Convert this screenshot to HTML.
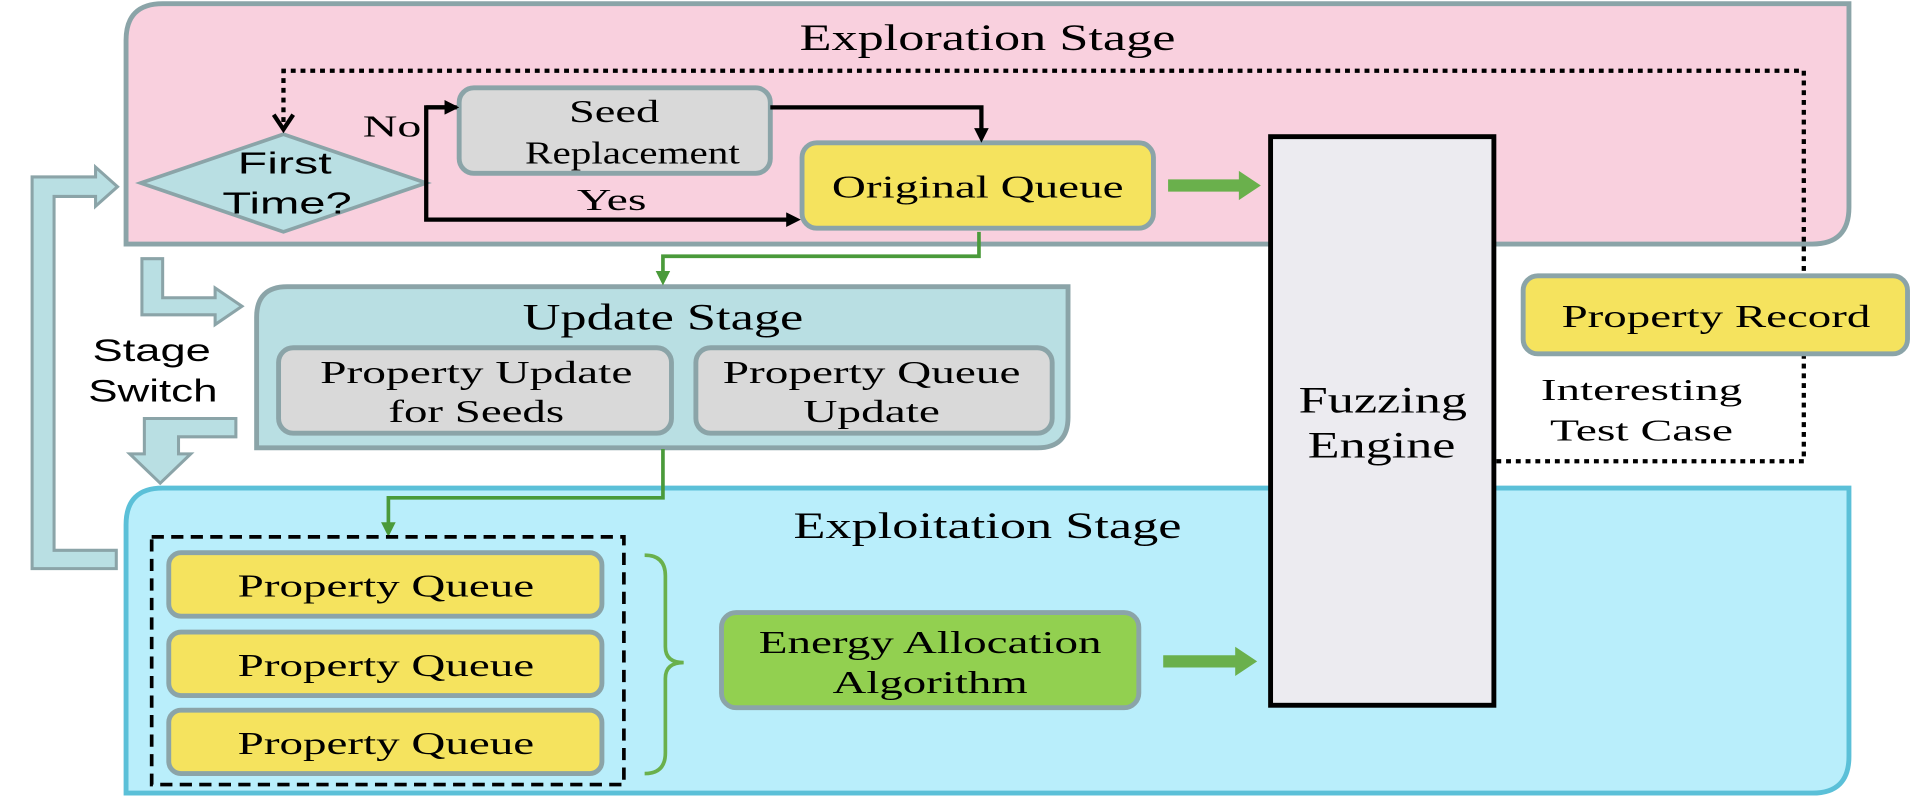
<!DOCTYPE html>
<html><head><meta charset="utf-8"><style>
html,body{margin:0;padding:0;background:#fff;}
svg{display:block}
.s{font-family:"Liberation Serif",serif;}
.a{font-family:"Liberation Sans",sans-serif;}
</style></head><body>
<svg width="1914" height="798" viewBox="0 0 1568 654" xmlns="http://www.w3.org/2000/svg">
<defs>
<marker id="bk" markerWidth="12" markerHeight="12" refX="8" refY="6" orient="auto" markerUnits="userSpaceOnUse"><path d="M0,0 L12,6 L0,12 Z" fill="#000"/></marker>
<marker id="gr" markerWidth="12" markerHeight="12" refX="8" refY="6" orient="auto" markerUnits="userSpaceOnUse"><path d="M0,0 L12,6 L0,12 Z" fill="#4a9a3a"/></marker>
</defs>
<path d="M133,3 H1515 V170 Q1515,200 1485,200 H103 V33 Q103,3 133,3 Z" fill="#f9d0de" stroke="#8ba4a8" stroke-width="4"/>
<text x="809" y="41" class="s" font-size="30" text-anchor="middle" textLength="308" lengthAdjust="spacingAndGlyphs">Exploration Stage</text>
<path d="M133,400 H1515 V620 Q1515,650 1485,650 H103 V430 Q103,400 133,400 Z" fill="#b9eefb" stroke="#5bc0d8" stroke-width="4"/>
<text x="809" y="441" class="s" font-size="30" text-anchor="middle" textLength="318" lengthAdjust="spacingAndGlyphs">Exploitation Stage</text>
<path d="M235,235 H875 V342 Q875,367 850,367 H210 V260 Q210,235 235,235 Z" fill="#b9dfe3" stroke="#8ba4a8" stroke-width="4"/>
<text x="543" y="270" class="s" font-size="30" text-anchor="middle" textLength="230" lengthAdjust="spacingAndGlyphs">Update Stage</text>
<rect x="228" y="285" width="322" height="70" rx="12" fill="#d9d9d9" stroke="#8ba4a8" stroke-width="4"/>
<text x="390" y="314" class="s" font-size="26" text-anchor="middle" textLength="256" lengthAdjust="spacingAndGlyphs">Property Update</text>
<text x="390" y="346" class="s" font-size="26" text-anchor="middle" textLength="144" lengthAdjust="spacingAndGlyphs">for Seeds</text>
<rect x="570" y="285" width="292" height="70" rx="12" fill="#d9d9d9" stroke="#8ba4a8" stroke-width="4"/>
<text x="714" y="314" class="s" font-size="26" text-anchor="middle" textLength="244" lengthAdjust="spacingAndGlyphs">Property Queue</text>
<text x="714" y="346" class="s" font-size="26" text-anchor="middle" textLength="112" lengthAdjust="spacingAndGlyphs">Update</text>
<rect x="376" y="72" width="255" height="70" rx="12" fill="#d9d9d9" stroke="#8ba4a8" stroke-width="4"/>
<text x="503" y="100" class="s" font-size="26" text-anchor="middle" textLength="74" lengthAdjust="spacingAndGlyphs">Seed</text>
<text x="518" y="134" class="s" font-size="26" text-anchor="middle" textLength="176" lengthAdjust="spacingAndGlyphs">Replacement</text>
<rect x="657" y="117" width="288" height="70" rx="12" fill="#f5e35e" stroke="#8ba4a8" stroke-width="4"/>
<text x="801" y="162" class="s" font-size="26" text-anchor="middle" textLength="239" lengthAdjust="spacingAndGlyphs">Original Queue</text>
<path d="M115,150 L232,110 L349,150 L232,190 Z" fill="#b9dfe3" stroke="#8ba4a8" stroke-width="3"/>
<text x="233" y="142" class="a" font-size="25" text-anchor="middle" textLength="77" lengthAdjust="spacingAndGlyphs">First</text>
<text x="235" y="175" class="a" font-size="25" text-anchor="middle" textLength="106" lengthAdjust="spacingAndGlyphs">Time?</text>
<path d="M374,88 H349 V180 H652" fill="none" stroke="#000" stroke-width="3.5" marker-end="url(#bk)"/>
<path d="M349,88 H372" fill="none" stroke="#000" stroke-width="3.5" marker-end="url(#bk)"/>
<path d="M631,88 H804 V113" fill="none" stroke="#000" stroke-width="3.5" marker-end="url(#bk)"/>
<text x="321" y="112" class="s" font-size="25" text-anchor="middle" textLength="48" lengthAdjust="spacingAndGlyphs">No</text>
<text x="501" y="172" class="s" font-size="25" text-anchor="middle" textLength="57" lengthAdjust="spacingAndGlyphs">Yes</text>
<path d="M1226,378 H1478 V58 H232 V103" fill="none" stroke="#000" stroke-width="3.5" stroke-dasharray="4,4"/>
<path d="M224,94 L232,106 L240,94" fill="none" stroke="#000" stroke-width="3.5"/>
<rect x="1041" y="112" width="183" height="466" fill="#ecebf0" stroke="#000" stroke-width="4"/>
<text x="1133" y="338" class="s" font-size="30" text-anchor="middle" textLength="138" lengthAdjust="spacingAndGlyphs">Fuzzing</text>
<text x="1132" y="375" class="s" font-size="30" text-anchor="middle" textLength="121" lengthAdjust="spacingAndGlyphs">Engine</text>
<rect x="1248" y="226" width="315" height="64" rx="12" fill="#f5e35e" stroke="#8ba4a8" stroke-width="4"/>
<text x="1406" y="268" class="s" font-size="26" text-anchor="middle" textLength="253" lengthAdjust="spacingAndGlyphs">Property Record</text>
<text x="1345" y="328" class="s" font-size="25" text-anchor="middle" textLength="165" lengthAdjust="spacingAndGlyphs">Interesting</text>
<text x="1345" y="361" class="s" font-size="25" text-anchor="middle" textLength="150" lengthAdjust="spacingAndGlyphs">Test Case</text>
<path d="M802,190 V210 H543 V230" fill="none" stroke="#4a9a3a" stroke-width="3" marker-end="url(#gr)"/>
<path d="M543,368 V408 H318 V436" fill="none" stroke="#4a9a3a" stroke-width="3" marker-end="url(#gr)"/>
<path d="M957,147 H1015 V140 L1033,152 L1015,164 V157 H957 Z" fill="#6ab04c"/>
<path d="M953,537 H1012 V530 L1030,542 L1012,554 V547 H953 Z" fill="#6ab04c"/>
<rect x="124" y="440" width="387" height="203" fill="none" stroke="#000" stroke-width="3" stroke-dasharray="10,6"/>
<rect x="138" y="453" width="355" height="52" rx="10" fill="#f5e35e" stroke="#8ba4a8" stroke-width="4"/>
<text x="316" y="489" class="s" font-size="26" text-anchor="middle" textLength="243" lengthAdjust="spacingAndGlyphs">Property Queue</text>
<rect x="138" y="518" width="355" height="52" rx="10" fill="#f5e35e" stroke="#8ba4a8" stroke-width="4"/>
<text x="316" y="554" class="s" font-size="26" text-anchor="middle" textLength="243" lengthAdjust="spacingAndGlyphs">Property Queue</text>
<rect x="138" y="582" width="355" height="52" rx="10" fill="#f5e35e" stroke="#8ba4a8" stroke-width="4"/>
<text x="316" y="618" class="s" font-size="26" text-anchor="middle" textLength="243" lengthAdjust="spacingAndGlyphs">Property Queue</text>
<path d="M528,455 Q545,455 545,472 V530 Q545,543 560,543 Q545,543 545,556 V617 Q545,634 528,634" fill="none" stroke="#6ab04c" stroke-width="3"/>
<rect x="591" y="502" width="342" height="78" rx="12" fill="#92d050" stroke="#8ba4a8" stroke-width="4"/>
<text x="762" y="535" class="s" font-size="26" text-anchor="middle" textLength="281" lengthAdjust="spacingAndGlyphs">Energy Allocation</text>
<text x="762" y="568" class="s" font-size="26" text-anchor="middle" textLength="160" lengthAdjust="spacingAndGlyphs">Algorithm</text>
<g fill="#b9dfe3" stroke="#8ba4a8" stroke-width="2.5">
<path d="M26,145 H78 V137 L96,153 L78,169 V161 H44 V451 H95 V466 H26 Z"/>
<path d="M116,212 H133 V244 H176 V236 L198,251 L176,266 V258 H116 Z"/>
<path d="M118,343 H193 V358 H146 V372 H156 L131,396 L106,372 H118 Z"/>
</g>
<text x="124" y="296" class="a" font-size="26" text-anchor="middle" textLength="97" lengthAdjust="spacingAndGlyphs">Stage</text>
<text x="125" y="329" class="a" font-size="26" text-anchor="middle" textLength="106" lengthAdjust="spacingAndGlyphs">Switch</text>
</svg>
</body></html>
